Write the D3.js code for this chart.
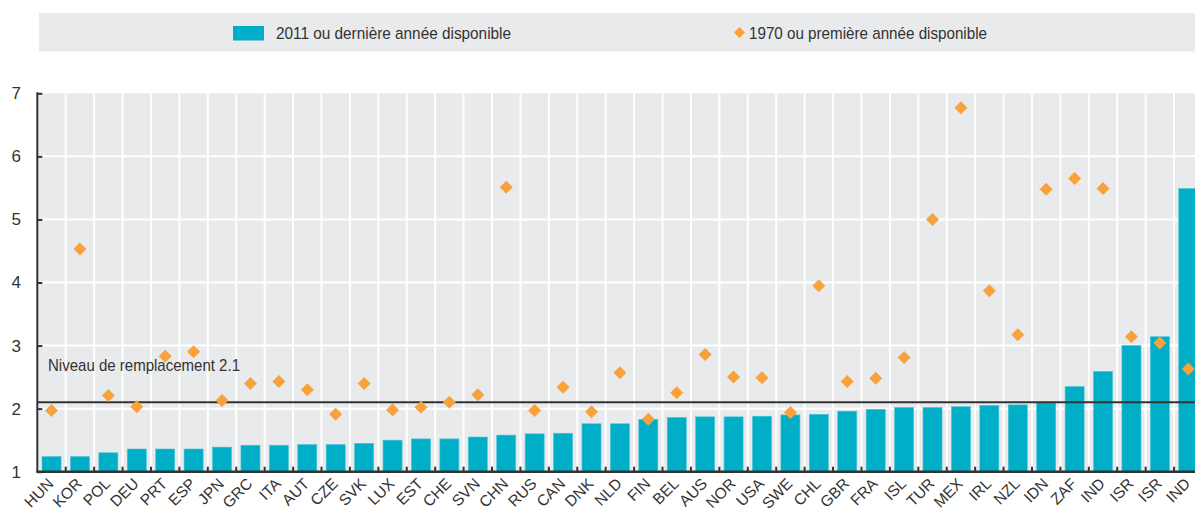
<!DOCTYPE html>
<html>
<head>
<meta charset="utf-8">
<script src="https://cdn.jsdelivr.net/npm/d3@7"></script>
<style>
  body { margin: 0; background: #fff; }
  text { font-family: "Liberation Sans", Arial, sans-serif; fill: #333; }
</style>
</head>
<body>
<div id="app"></div>
<script>
// pays (ordre du graphique)
const categories = ["HUN","KOR","POL","DEU","PRT","ESP","JPN","GRC","ITA","AUT","CZE","SVK","LUX","EST","CHE","SVN","CHN","RUS","CAN","DNK","NLD","FIN","BEL","AUS","NOR","USA","SWE","CHL","GBR","FRA","ISL","TUR","MEX","IRL","NZL","IDN","ZAF","IND","ISR","ISR","IND"];

// 2011 ou dernière année disponible
const values2011 = [1.24,1.24,1.30,1.36,1.36,1.36,1.39,1.42,1.42,1.43,1.43,1.45,1.50,1.52,1.52,1.55,1.58,1.60,1.61,1.76,1.76,1.83,1.86,1.87,1.87,1.88,1.90,1.91,1.96,1.99,2.02,2.02,2.03,2.05,2.06,2.09,2.35,2.59,3.00,3.14,5.49];

// 1970 ou première année disponible
const values1970 = [1.97,4.53,2.21,2.03,2.83,2.90,2.13,2.40,2.43,2.30,1.91,2.40,1.98,2.02,2.10,2.22,5.51,1.97,2.34,1.95,2.57,1.83,2.25,2.86,2.50,2.49,1.94,3.95,2.43,2.48,2.81,5.00,6.77,3.87,3.17,5.48,5.65,5.49,3.14,3.04,2.63];

const yTicks = [1, 2, 3, 4, 5, 6, 7];
const replacementLevel = 2.1;
const legendLabels = ["2011 ou dernière année disponible", "1970 ou première année disponible"];

const width = 1195, height = 511;
const plotLeft = 37.3, plotTop = 93.3, plotBottom = 471.7, plotRight = 1202.5;

const svg = d3.select("#app").append("svg")
    .attr("width", width)
    .attr("height", height);

// the original uses a condensed face: squeeze Liberation Sans to the same width
function condense(sel, w) {
    sel.attr("textLength", w).attr("lengthAdjust", "spacingAndGlyphs");
}

// legend
svg.append("rect")
    .attr("x", 39).attr("y", 13)
    .attr("width", width - 39).attr("height", 38.5)
    .attr("fill", "#e9eaec");

svg.append("rect")
    .attr("x", 233).attr("y", 26)
    .attr("width", 31).attr("height", 14.5)
    .attr("fill", "#00aec7");
svg.append("text")
    .attr("x", 276).attr("y", 39)
    .style("font-size", "17px")
    .text(legendLabels[0])
    .call(condense, 235);

const diamond = "M0,-6.5L6.5,0L0,6.5L-6.5,0Z";
svg.append("path")
    .attr("d", "M0,-5.5L5.5,0L0,5.5L-5.5,0Z")
    .attr("transform", "translate(739.5,32.5)")
    .attr("fill", "#f9a23c");
svg.append("text")
    .attr("x", 749).attr("y", 39)
    .style("font-size", "17px")
    .text(legendLabels[1])
    .call(condense, 238);

// scales
const x = d3.scaleBand()
    .domain(d3.range(categories.length))
    .range([plotLeft, plotRight])
    .padding(0);

const y = d3.scaleLinear()
    .domain([1, 7])
    .range([plotBottom, plotTop]);

// plot background
svg.append("rect")
    .attr("x", plotLeft).attr("y", plotTop)
    .attr("width", plotRight - plotLeft).attr("height", plotBottom - plotTop)
    .attr("fill", "#e9eaec");

// grid
svg.append("g").selectAll("line")
    .data(yTicks.slice(1, -1))
    .join("line")
    .attr("x1", plotLeft).attr("x2", plotRight)
    .attr("y1", d => y(d)).attr("y2", d => y(d))
    .attr("stroke", "#fff").attr("stroke-width", 2);

svg.append("g").selectAll("line")
    .data(d3.range(1, categories.length))
    .join("line")
    .attr("x1", d => x(d)).attr("x2", d => x(d))
    .attr("y1", plotTop).attr("y2", plotBottom)
    .attr("stroke", "#fff").attr("stroke-width", 2);

// bars
const bw = x.bandwidth();
svg.append("g").selectAll("rect")
    .data(values2011)
    .join("rect")
    .attr("x", (d, i) => x(i) + bw * 0.165)
    .attr("width", bw * 0.67)
    .attr("y", d => y(d))
    .attr("height", d => y(1) - y(d))
    .attr("fill", "#00aec7")
    .attr("stroke", "#4cc3d6")
    .attr("stroke-width", 0.6);

// replacement level
svg.append("line")
    .attr("x1", plotLeft).attr("x2", plotRight)
    .attr("y1", y(replacementLevel)).attr("y2", y(replacementLevel))
    .attr("stroke", "#333").attr("stroke-width", 2);
svg.append("text")
    .attr("x", 48).attr("y", 370.7)
    .style("font-size", "17px")
    .text("Niveau de remplacement " + replacementLevel)
    .call(condense, 192);

// diamonds
svg.append("g").selectAll("path")
    .data(values1970)
    .join("path")
    .attr("d", diamond)
    .attr("transform", (d, i) => `translate(${x(i) + bw / 2},${y(d)})`)
    .attr("fill", "#f9a23c");

// y axis
const yAxis = svg.append("g")
    .attr("transform", `translate(${plotLeft},0)`)
    .call(d3.axisRight(y).tickValues(yTicks).tickSize(5).tickFormat(d3.format("d")));
yAxis.select(".domain").remove();
yAxis.selectAll(".tick line").attr("stroke", "#333").attr("stroke-width", 2);
yAxis.selectAll(".tick text")
    .attr("x", -21).attr("text-anchor", "middle")
    .style("font-size", "17px");
svg.append("line")
    .attr("x1", plotLeft).attr("x2", plotLeft)
    .attr("y1", plotTop - 1).attr("y2", plotBottom)
    .attr("stroke", "#333").attr("stroke-width", 2);

// x axis
const xTicks = svg.append("g")
    .attr("transform", `translate(0,${plotBottom})`);
xTicks.selectAll("line")
    .data(d3.range(1, categories.length))
    .join("line")
    .attr("x1", d => x(d)).attr("x2", d => x(d))
    .attr("y1", 0).attr("y2", -5)
    .attr("stroke", "#333").attr("stroke-width", 2);
svg.append("line")
    .attr("x1", plotLeft - 1).attr("x2", plotRight)
    .attr("y1", plotBottom).attr("y2", plotBottom)
    .attr("stroke", "#333").attr("stroke-width", 2.5);

const xAxis = svg.append("g")
    .attr("transform", `translate(0,${plotBottom})`)
    .call(d3.axisBottom(x).tickSize(0).tickFormat(i => categories[i]));
xAxis.select(".domain").remove();
xAxis.selectAll(".tick text")
    .attr("text-anchor", "end")
    .attr("x", 0).attr("y", 0).attr("dy", 0)
    .attr("transform", "translate(3,13) rotate(-45)")
    .style("font-size", "15.5px");
</script>
</body>
</html>
